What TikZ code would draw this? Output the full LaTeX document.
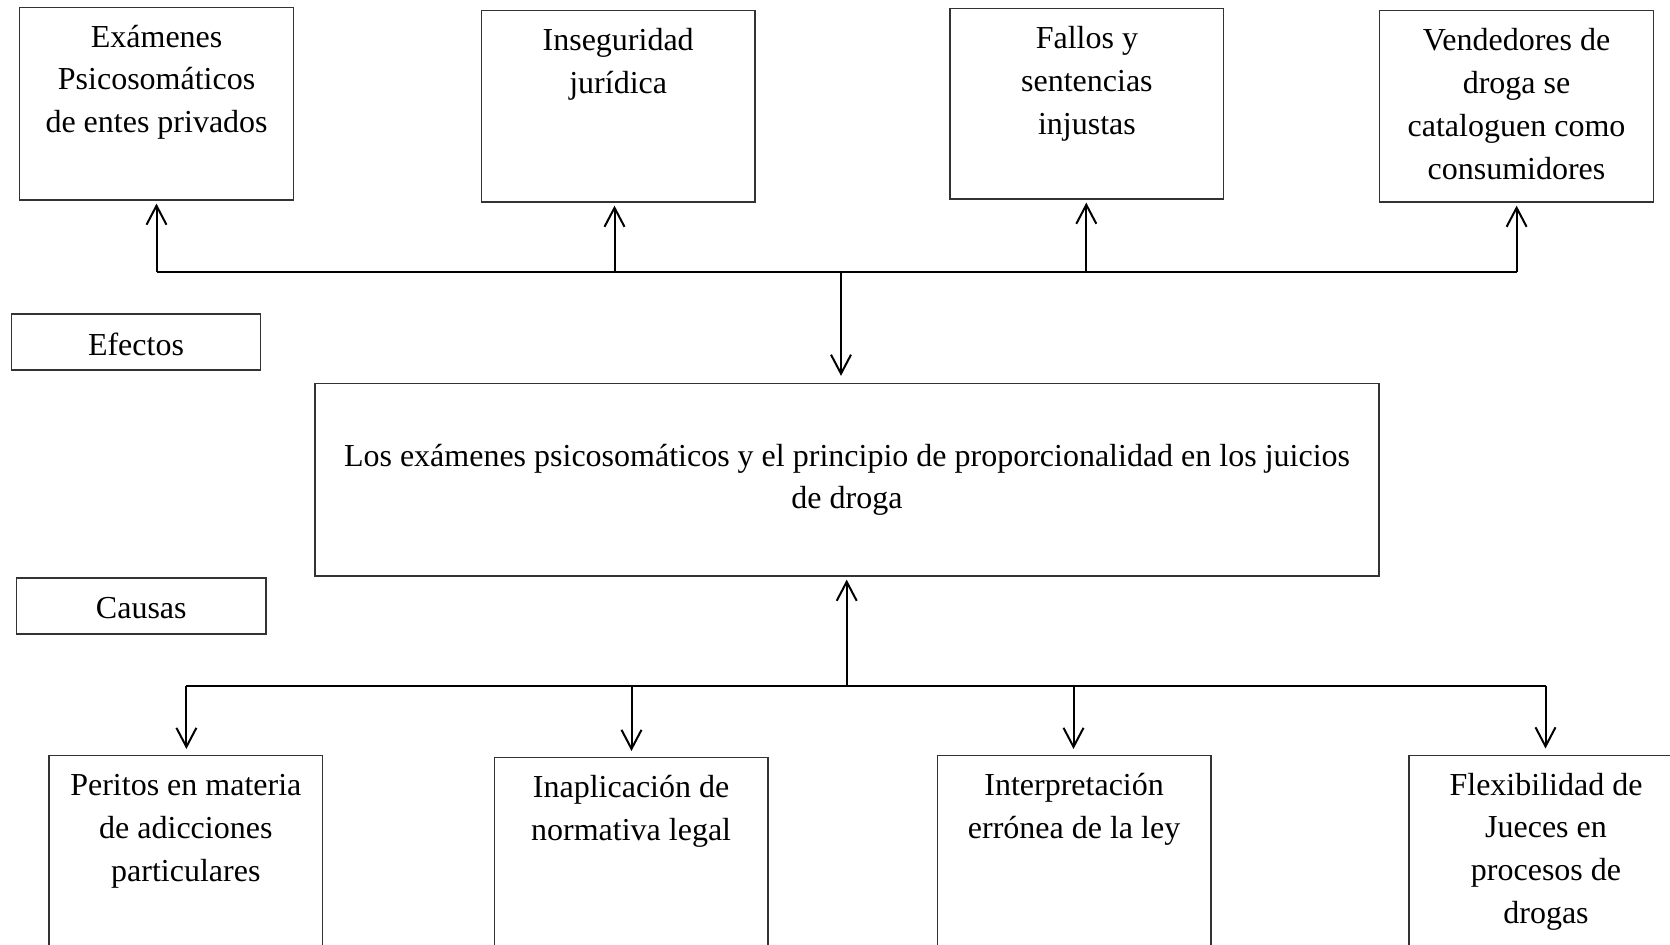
\documentclass[tikz,border=0pt]{standalone}
\usepackage{fontspec}
\setmainfont{Liberation Serif}
\usetikzlibrary{arrows.meta}
\tikzset{
  box/.style={draw=black!80, line width=0.65pt, inner sep=0pt, minimum width=137pt},
  txt/.style={inner sep=0pt, align=center, anchor=north, font=\fontsize{16}{21.4}\selectfont},
  conn/.style={line width=1pt, black},
  arr/.style={conn, -{Straight Barb[length=9.5pt,width=10pt]}}
}
\begin{document}
\begin{tikzpicture}[x=0.5pt,y=-0.5pt]
\clip (0,0) rectangle (1670,945);
% top effect boxes
\node[box, minimum height=96.35pt] (b1) at (156.6,103.6) {};
\node[box, minimum height=95.7pt, minimum width=136.85pt] (b2) at (618.2,106.3) {};
\node[box, minimum height=95.25pt, minimum width=136.85pt] (b3) at (1086.9,103.75) {};
\node[box, minimum height=95.65pt, minimum width=137.15pt] (b4) at (1516.5,106.35) {};
\node[txt, yshift=-5.1pt] (t1) at (b1.north) {\strut Exámenes\\Psicosomáticos\\de entes privados};
\node[txt, yshift=-5.1pt] (t2) at (b2.north) {\strut Inseguridad\\jurídica};
\node[txt, yshift=-5.1pt] (t3) at (b3.north) {\strut Fallos y\\sentencias\\injustas};
\node[txt, yshift=-5.1pt] (t4) at (b4.north) {\strut Vendedores de\\droga se\\cataloguen como\\consumidores};
% labels
\node[box, minimum width=124.7pt, minimum height=28pt] (ef) at (136,342) {};
\node[box, minimum width=124.7pt, minimum height=28pt] (ca) at (141.3,606) {};
\node[txt, anchor=center, yshift=-1pt] (eft) at (ef.center) {Efectos};
\node[txt, anchor=center, yshift=-1pt] (cat) at (ca.center) {Causas};
% central problem
\node[box, minimum width=532pt, minimum height=96.25pt] (mid) at (847,479.75) {};
\node[txt, yshift=-26.4pt] (tm) at (mid.north) {\strut Los exámenes psicosomáticos y el principio de proporcionalidad en los juicios\\de droga};
% bottom cause boxes (cut by the page edge)
\node[box, anchor=north, minimum height=110pt, minimum width=136.85pt] (c1) at (185.85,755) {};
\node[box, anchor=north, minimum height=110pt, minimum width=136.9pt] (c2) at (631.1,757) {};
\node[box, anchor=north, minimum height=110pt, minimum width=136.9pt] (c3) at (1074.1,755) {};
\node[box, anchor=north, minimum height=110pt, minimum width=137pt] (c4) at (1546,754.5) {};
\node[txt, yshift=-5.1pt] (u1) at (c1.north) {\strut Peritos en materia\\de adicciones\\particulares};
\node[txt, yshift=-5.1pt] (u2) at (c2.north) {\strut Inaplicación de\\normativa legal};
\node[txt, yshift=-5.1pt] (u3) at (c3.north) {\strut Interpretación\\errónea de la ley};
\node[txt, yshift=-5.1pt] (u4) at (c4.north) {\strut Flexibilidad de\\Jueces en\\procesos de\\drogas};
% top junctions
\coordinate (j1) at (156.5,272);
\coordinate (j2) at (614.5,272);
\coordinate (j3) at (1086.3,272);
\coordinate (j4) at (1516.6,272);
\coordinate (jm) at (841,272);
\draw[conn] (j1) -- (j4);
\draw[arr, shorten >=1.5pt] (j1) -- (j1 |- b1.south);
\draw[arr, shorten >=1.5pt] (j2) -- (j2 |- b2.south);
\draw[arr, shorten >=1.5pt] (j3) -- (j3 |- b3.south);
\draw[arr, shorten >=1.5pt] (j4) -- (j4 |- b4.south);
\draw[arr, shorten >=3.5pt] (jm) -- (jm |- mid.north);
% bottom junctions
\coordinate (k1) at (186.4,685.7);
\coordinate (k2) at (631.5,685.7);
\coordinate (k3) at (1073.5,685.7);
\coordinate (k4) at (1545.5,685.7);
\coordinate (km) at (846.7,687);
\draw[conn] (k1) -- (k4);
\draw[arr, shorten >=1.5pt] (km) -- (km |- mid.south);
\draw[arr, shorten >=3pt] (k1) -- (k1 |- c1.north);
\draw[arr, shorten >=3pt] (k2) -- (k2 |- c2.north);
\draw[arr, shorten >=3pt] (k3) -- (k3 |- c3.north);
\draw[arr, shorten >=3pt] (k4) -- (k4 |- c4.north);
\end{tikzpicture}
\end{document}
